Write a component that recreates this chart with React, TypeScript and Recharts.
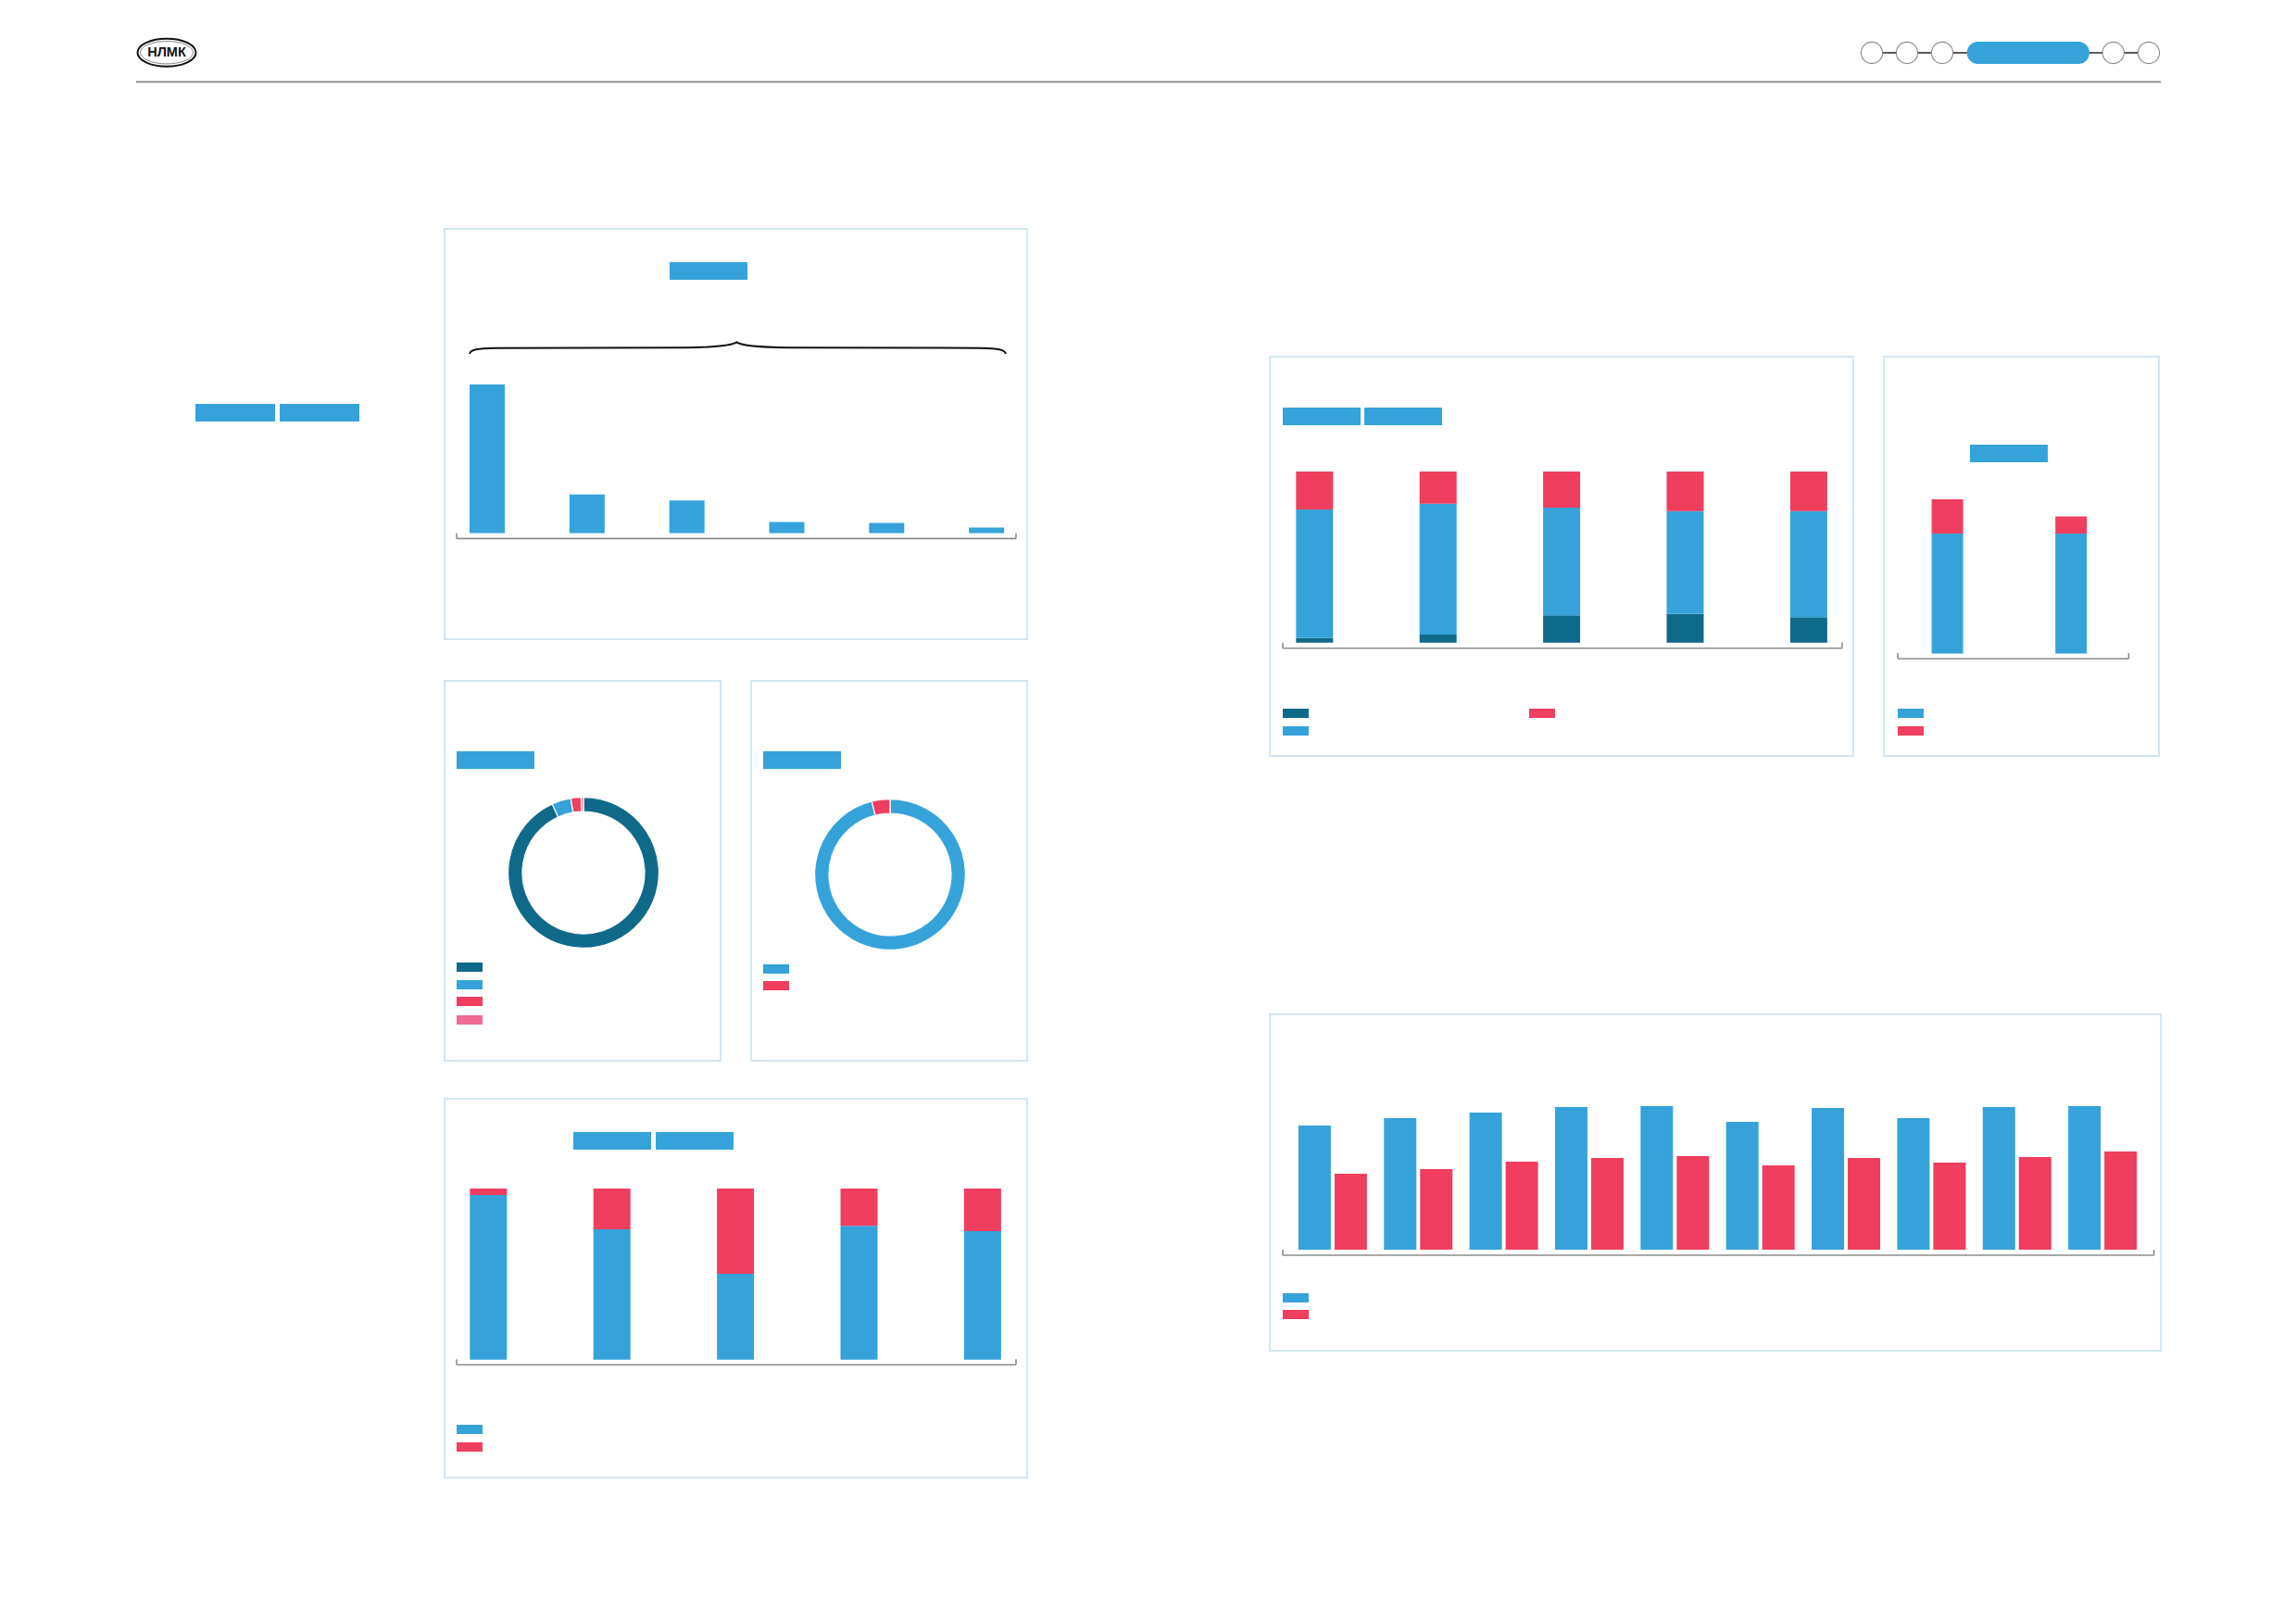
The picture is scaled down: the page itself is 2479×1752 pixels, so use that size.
import React from 'react';
import { BarChart, Bar, XAxis, YAxis, PieChart, Pie, Cell } from 'recharts';

// ---------- colours ----------
const BLUE = '#35a3da';
const RED = '#ef3e5e';
const TEAL = '#0f6a8a';
const PINK = '#f06a96';
const BORDER = '#d2e6f1';
const AXIS = '#8d8d8d';

// ---------- data ----------
// Panel A: output by site (single series)
const siteCategories = ['Site 1', 'Site 2', 'Site 3', 'Site 4', 'Site 5', 'Site 6'];
const siteValues = [100, 26, 22, 7.5, 6.8, 3.7];

// Donut 1 (four shares)
const donut1Labels = ['Share A', 'Share B', 'Share C', 'Share D'];
const donut1Values = [93.2, 4.1, 2.2, 0.5];
// Donut 2 (two shares)
const donut2Labels = ['Share A', 'Share B'];
const donut2Values = [96.1, 3.9];

// Panel D: 100% stacked, 5 categories
const dCategories = ['D1', 'D2', 'D3', 'D4', 'D5'];
const dBlue = [96.2, 76.2, 50.2, 78.2, 75.1];
const dRed = [3.8, 23.8, 49.8, 21.8, 24.9];

// Panel E: 100% stacked, three segments
const eCategories = ['E1', 'E2', 'E3', 'E4', 'E5'];
const eTeal = [2.7, 4.7, 15.9, 16.8, 14.8];
const eBlue = [75.1, 76.5, 63.0, 60.1, 62.1];
const eRed = [22.2, 18.8, 21.1, 23.1, 23.1];

// Panel F: stacked, two categories
const fCategories = ['F1', 'F2'];
const fBlue = [7, 7];
const fRed = [2, 1];

// Panel G: grouped bars, 10 categories
const gCategories = ['G1', 'G2', 'G3', 'G4', 'G5', 'G6', 'G7', 'G8', 'G9', 'G10'];
const gBlue = [134, 142, 148, 154, 155, 138, 153, 142, 154, 155];
const gRed = [82, 87, 95, 99, 101, 91, 99, 94, 100, 106];

// ---------- helpers ----------
const EmptyTick = () => <g />;

type Series = { key: string; color: string };

function BarBlock(props: {
  plotLeft: number; plotTop: number; plotW: number; plotH: number;
  data: any[]; series: Series[]; stacked?: boolean; domain: [number, number];
  padL: number; padR: number; barSize: number; barGap?: number;
}) {
  const m = { top: 2, right: 3, bottom: 4, left: 3 };
  const width = props.plotW + m.left + m.right;
  const height = props.plotH + m.top + m.bottom;
  const last = props.data.length - 1;
  return (
    <div style={{ position: 'absolute', left: props.plotLeft - m.left, top: props.plotTop - m.top, width, height }}>
      <BarChart width={width} height={height} data={props.data} margin={m} barGap={props.barGap ?? 4}>
        <XAxis xAxisId="cat" dataKey="name" hide padding={{ left: props.padL, right: props.padR }} />
        <XAxis
          xAxisId="frame" type="number" domain={[0, last]} ticks={[0, last]} interval={0} height={1}
          mirror allowDataOverflow tick={<EmptyTick />} tickSize={6}
          axisLine={{ stroke: AXIS, strokeWidth: 1.6 }} tickLine={{ stroke: AXIS, strokeWidth: 1.6 }}
        />
        <YAxis hide type="number" domain={props.domain} allowDataOverflow />
        {props.series.map((s) => (
          <Bar key={s.key} xAxisId="cat" dataKey={s.key} fill={s.color} barSize={props.barSize}
            stackId={props.stacked ? 'stack' : undefined} isAnimationActive={false} />
        ))}
      </BarChart>
    </div>
  );
}

function Donut(props: { cx: number; cy: number; labels: string[]; values: number[]; colors: string[] }) {
  const size = 200;
  const data = props.labels.map((l, i) => ({ name: l, value: props.values[i] }));
  return (
    <div style={{ position: 'absolute', left: props.cx - size / 2, top: props.cy - size / 2, width: size, height: size }}>
      <PieChart width={size} height={size} margin={{ top: 0, right: 0, bottom: 0, left: 0 }}>
        <Pie data={data} dataKey="value" nameKey="name" cx="50%" cy="50%" innerRadius={66} outerRadius={81.4}
          startAngle={90} endAngle={-270} stroke="#ffffff" strokeWidth={1.2} isAnimationActive={false}>
          {data.map((d, i) => <Cell key={d.name} fill={props.colors[i]} />)}
        </Pie>
      </PieChart>
    </div>
  );
}

const Panel = (p: { l: number; t: number; r: number; b: number }) => (
  <div style={{ position: 'absolute', left: p.l, top: p.t, width: p.r - p.l, height: p.b - p.t, border: `2px solid ${BORDER}`, boxSizing: 'border-box' }} />
);

const Rect = (p: { l: number; t: number; w: number; h: number; c: string }) => (
  <div style={{ position: 'absolute', left: p.l, top: p.t, width: p.w, height: p.h, background: p.c }} />
);

const Swatches = (p: { l: number; tops: number[]; colors: string[] }) => (
  <>
    {p.colors.map((c, i) => <Rect key={i} l={p.l} t={p.tops[i]} w={28} h={10} c={c} />)}
  </>
);

export default function App() {
  const aData = siteCategories.map((n, i) => ({ name: n, v: siteValues[i] }));
  const dData = dCategories.map((n, i) => ({ name: n, blue: dBlue[i], red: dRed[i] }));
  const eData = eCategories.map((n, i) => ({ name: n, teal: eTeal[i], blue: eBlue[i], red: eRed[i] }));
  const fData = fCategories.map((n, i) => ({ name: n, blue: fBlue[i], red: fRed[i] }));
  const gData = gCategories.map((n, i) => ({ name: n, blue: gBlue[i], red: gRed[i] }));

  const circles = [2021, 2059, 2097, 2281.7, 2320];

  return (
    <div style={{ position: 'absolute', left: 0, top: 0, width: 2479, height: 1752, background: '#ffffff', overflow: 'hidden' }}>
      {/* header / decorations */}
      <svg width={2479} height={1752} style={{ position: 'absolute', left: 0, top: 0 }}>
        <ellipse cx={180} cy={56.7} rx={31.5} ry={15} fill="#fff" stroke="#111" strokeWidth={2} />
        <ellipse cx={180} cy={56.7} rx={28.5} ry={12.2} fill="none" stroke="#666" strokeWidth={0.8} />
        <text x={180} y={60.8} textAnchor="middle" fontFamily="'Liberation Sans', Arial, sans-serif" fontWeight="bold" fontSize={14.5} fill="#111">НЛМК</text>
        <line x1={147} y1={88.3} x2={2333} y2={88.3} stroke="#858585" strokeWidth={1.8} />
        {/* progress indicator */}
        <line x1={2021} y1={57} x2={2320} y2={57} stroke="#222" strokeWidth={1.6} />
        <rect x={2123.7} y={45} width={132.3} height={24} rx={12} fill={BLUE} />
        {circles.map((c) => <circle key={c} cx={c} cy={57} r={11.6} fill="#fff" stroke="#8a8a8a" strokeWidth={1.1} />)}
        {/* curly brace above panel A bars */}
        <path d="M507,382 C508,377.2 515,376 535,375.7 L740,375.3 C775,374.8 790,373 795.3,369.4 C800.6,373 815,374.8 850,375.3 L1058,375.7 C1078,376 1085,377.2 1086,382"
          fill="none" stroke="#111" strokeWidth={2} />
      </svg>

      {/* left labels */}
      <Rect l={211} t={436} w={86} h={19} c={BLUE} />
      <Rect l={302} t={436} w={86} h={19} c={BLUE} />

      {/* Panel A */}
      <Panel l={479} t={246} r={1110} b={691} />
      <Rect l={723} t={283} w={84} h={19} c={BLUE} />
      <BarBlock plotLeft={493} plotTop={415.3} plotW={604} plotH={166.4} data={aData}
        series={[{ key: 'v', color: BLUE }]} domain={[-3.7, 100]} padL={-21} padR={-22} barSize={38} />

      {/* Panel B: donut 1 */}
      <Panel l={479} t={734} r={779} b={1146} />
      <Rect l={493} t={811} w={84} h={19} c={BLUE} />
      <Donut cx={629.8} cy={942.3} labels={donut1Labels} values={donut1Values} colors={[TEAL, BLUE, RED, PINK]} />
      <Swatches l={493} tops={[1039, 1057.7, 1076.3, 1096.3]} colors={[TEAL, BLUE, RED, PINK]} />

      {/* Panel C: donut 2 */}
      <Panel l={810} t={734} r={1110} b={1146} />
      <Rect l={824} t={811} w={84} h={19} c={BLUE} />
      <Donut cx={961} cy={944} labels={donut2Labels} values={donut2Values} colors={[BLUE, RED]} />
      <Swatches l={824.4} tops={[1040.7, 1059.3]} colors={[BLUE, RED]} />

      {/* Panel D */}
      <Panel l={479} t={1185} r={1110} b={1596} />
      <Rect l={619} t={1222} w={84} h={19} c={BLUE} />
      <Rect l={708} t={1222} w={84} h={19} c={BLUE} />
      <BarBlock plotLeft={493} plotTop={1283} plotW={604} plotH={190.3} data={dData} stacked
        series={[{ key: 'blue', color: BLUE }, { key: 'red', color: RED }]} domain={[-3.03, 100]}
        padL={-32.7} padR={-30.3} barSize={40} />
      <Swatches l={493} tops={[1538, 1556.7]} colors={[BLUE, RED]} />

      {/* Panel E */}
      <Panel l={1370} t={384} r={2002} b={817} />
      <Rect l={1385} t={440} w={84} h={19} c={BLUE} />
      <Rect l={1473} t={440} w={84} h={19} c={BLUE} />
      <BarBlock plotLeft={1385} plotTop={509.3} plotW={604} plotH={190.7} data={eData} stacked
        series={[{ key: 'teal', color: TEAL }, { key: 'blue', color: BLUE }, { key: 'red', color: RED }]}
        domain={[-3.25, 100]} padL={-32.7} padR={-30.3} barSize={40} />
      <Swatches l={1385} tops={[765, 783.7]} colors={[TEAL, BLUE]} />
      <Swatches l={1651} tops={[765]} colors={[RED]} />

      {/* Panel F */}
      <Panel l={2033} t={384} r={2332} b={817} />
      <Rect l={2127} t={480} w={84} h={19} c={BLUE} />
      <BarBlock plotLeft={2048.6} plotTop={539.3} plotW={249.4} plotH={172} data={fData} stacked
        series={[{ key: 'blue', color: BLUE }, { key: 'red', color: RED }]} domain={[-0.3, 9]}
        padL={-13.4} padR={-4.4} barSize={34} />
      <Swatches l={2049} tops={[765, 783.7]} colors={[BLUE, RED]} />

      {/* Panel G */}
      <Panel l={1370} t={1094} r={2334} b={1459} />
      <BarBlock plotLeft={1384.8} plotTop={1194.3} plotW={940.7} plotH={161} data={gData}
        series={[{ key: 'blue', color: BLUE }, { key: 'red', color: RED }]} domain={[-6, 155]}
        padL={7.9} padR={9.2} barSize={35} barGap={4} />
      <Swatches l={1385} tops={[1395.7, 1414.3]} colors={[BLUE, RED]} />
    </div>
  );
}
